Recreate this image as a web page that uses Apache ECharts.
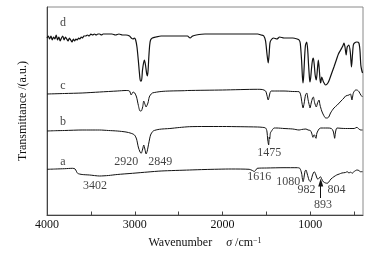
<!DOCTYPE html>
<html>
<head>
<meta charset="utf-8">
<script src="https://cdn.jsdelivr.net/npm/echarts@6/dist/echarts.min.js"></script>
<style>
  html, body { margin: 0; padding: 0; background: #fff; }
  #ftir { width: 375px; height: 254px; }
</style>
</head>
<body>
<div id="ftir"></div>
<script>
// wavenumber (cm-1), offset transmittance (arbitrary, stacked)
const curveA = [
  [4000,45.7],[3900,46],[3800,46.3],[3708,46.7],[3680,46],[3651,41.7],[3600,40.5],[3515,40],
  [3401,39],[3300,39.5],[3200,40.5],[3026,41.7],[2850,43],[2700,44],[2378,45],[2200,45.5],
  [1900,46],[1697,45.7],[1660,44.5],[1640,43.5],[1620,45],[1606,46.7],[1500,47],[1300,47.3],
  [1151,47.3],[1120,46.7],[1100,42],[1090,36],[1083,33.3],[1075,36],[1060,44],[1050,45],
  [1035,41],[1015,35],[1000,33.3],[990,35],[975,40],[955,43.3],[940,41],[925,37],[912,35.7],
  [900,37],[885,38.3],[870,36],[850,33],[825,32],[807,31.7],[790,33],[765,36],[731,38.3],
  [700,40],[670,41],[640,42],[600,42.5],[580,43.3],[560,42],[540,43],[526,41.7],[500,43.5],
  [469,45],[447,44.5],[430,43.3],[405,43.3]
];
const curveB = [
  [4000,84],[3900,84.3],[3800,84.5],[3600,85],[3500,85],[3400,85],[3300,84.5],[3200,84],
  [3100,83],[3041,81.7],[3003,80],[2980,76],[2960,68],[2940,63],[2927,61.7],[2910,66],
  [2898,70],[2885,66],[2871,61],[2858,64],[2840,72],[2820,80],[2790,84],[2720,85.7],
  [2600,86.5],[2492,87.5],[2378,88.3],[2200,88.5],[2000,88.5],[1800,88.3],[1600,88],
  [1549,87.7],[1510,87],[1495,84],[1485,75],[1475,70],[1468,78],[1463,76],[1455,82],
  [1447,83.3],[1412,87],[1380,87],[1300,86.5],[1200,86],[1128,85],[1100,85.5],[1050,86],
  [1026,85],[1000,84.5],[985,82],[970,77.7],[960,80],[950,80],[945,78],[935,76.7],[925,82],
  [901,86],[882,87],[850,87],[800,87],[760,86.5],[740,84],[730,80],[723,76.7],[715,82],
  [705,86],[697,87],[650,86.7],[600,86.5],[550,86.5],[500,86.5],[469,87.7],[447,86],
  [425,85],[405,85]
];
const curveC = [
  [4000,121],[3800,121.5],[3600,122],[3400,123],[3200,124],[3100,124.5],[3060,124],[3041,120],
  [3020,123],[3000,122],[2980,118],[2960,110],[2940,104],[2927,104],[2910,108],[2898,114],
  [2885,111],[2870,108],[2864,108],[2850,112],[2835,118],[2822,120],[2800,122],[2700,123.5],
  [2600,124],[2436,124.3],[2400,124.5],[2000,125],[1600,125.7],[1549,125.5],[1510,124],
  [1495,120],[1480,115],[1470,118],[1460,122],[1447,124],[1400,124],[1300,124],[1200,123.5],
  [1128,123.3],[1110,120],[1095,112],[1083,107],[1070,112],[1055,120],[1041,122],[1025,115],
  [1010,109],[1004,107],[990,112],[975,117],[966,118],[950,112],[932,108],[918,112],[901,115],
  [890,110],[870,104],[850,100],[825,97],[807,97],[790,98],[770,102],[731,107],[693,110],
  [650,114],[617,117],[598,119],[560,120],[543,121],[526,115],[510,122],[484,125],[470,125],
  [447,123.5],[425,120],[405,118]
];
const curveD = [
  [4000,177],[3985,179],[3970,176],[3955,179],[3940,175],[3925,178],[3910,176],[3895,180],
  [3880,175],[3865,178],[3850,174],[3835,177],[3820,179],[3805,175],[3790,178],[3775,176],
  [3760,174],[3745,177],[3730,175],[3715,173],[3700,176],[3685,174],[3670,176],[3655,175],
  [3640,177],[3625,176],[3610,178],[3595,177],[3580,179],[3560,179],[3540,180],[3520,179],
  [3500,181],[3480,180],[3460,181],[3440,180],[3420,181],[3400,181],[3380,180],[3360,181],
  [3340,181],[3300,181],[3260,181],[3220,180],[3180,181],[3140,180],[3100,180],[3060,179],
  [3040,177],[3020,176],[3005,177],[2990,175],[2975,168],[2960,155],[2945,140],[2935,134],
  [2924,134],[2912,145],[2900,152],[2890,155],[2878,150],[2864,141],[2856,139],[2848,145],
  [2840,158],[2830,170],[2820,175],[2800,177],[2760,178],[2700,179],[2600,179],[2500,179],
  [2436,179],[2400,179],[2370,177],[2340,179],[2300,180],[2200,181],[2100,181],[2000,181],
  [1800,181],[1600,181],[1560,180],[1530,179],[1510,174],[1495,162],[1480,152],[1470,160],
  [1460,172],[1447,175],[1420,177],[1380,176],[1350,178],[1300,177],[1250,177],[1200,177],
  [1150,176],[1128,175],[1115,172],[1100,155],[1090,138],[1083,132],[1075,140],[1065,158],
  [1055,170],[1041,173],[1030,165],[1020,150],[1010,137],[1004,133],[995,138],[985,148],
  [975,155],[966,157],[955,150],[945,140],[932,135],[920,145],[909,155],[900,148],[890,136],
  [882,132],[870,138],[850,133],[825,130],[800,132],[780,136],[760,141],[731,148],[700,156],
  [680,161],[655,165],[630,169],[617,172],[605,168],[592,160],[580,168],[561,170],[545,163],
  [531,148],[520,160],[510,170],[497,172],[470,173],[447,172],[435,165],[425,150],[415,145],
  [405,142]
];
const curveNames = ['a', 'b', 'c', 'd'];
// [wavenumber, value, text]
const annotations = [
  [3818,192.3,'d'],[3818,129,'c'],[3818,93.3,'b'],[3818,53.3,'a'],
  [3098,53.3,'2920'],[2710,53.3,'2849'],[3452,29.3,'3402'],[1469,61.7,'1475'],
  [1583,38.3,'1616'],[1253,32.7,'1080'],[1043,25,'982'],[702,25,'804'],[856,10,'893']
];
const arrow893 = [[882,17],[882,32.5]];
const majorTicks = [4000, 3000, 2000, 1000];
const allTicks = [4000, 3500, 3000, 2500, 2000, 1500, 1000, 500];

const serif = 'Liberation Serif';
const chart = echarts.init(document.getElementById('ftir'));

const lineSeries = [curveA, curveB, curveC, curveD].map((pts, i) => ({
  name: curveNames[i],
  type: 'line',
  data: pts,
  showSymbol: false,
  smooth: 0.25,
  lineStyle: { color: '#111', width: i === 3 ? 1.2 : 1 },
  silent: true,
  z: 3
}));
lineSeries[0].markLine = {
  silent: true,
  symbol: ['none', 'triangle'],
  symbolSize: [5, 8],
  label: { show: false },
  lineStyle: { color: '#111', width: 1, type: 'solid' },
  data: [[{ coord: arrow893[0] }, { coord: arrow893[1] }]]
};

const option = {
  animation: false,
  grid: {
    left: 47, right: 12, top: 7, bottom: 39,
    show: true, borderColor: '#8a8a8a', borderWidth: 1
  },
  xAxis: {
    type: 'value',
    min: 400,
    max: 4000,
    inverse: true,
    name: '{t|Wavenumber}{i|σ}{t| /cm}{s|−1}',
    nameLocation: 'middle',
    nameGap: 22,
    nameTextStyle: {
      rich: {
        t: { fontFamily: serif, fontSize: 12, color: '#111', verticalAlign: 'bottom' },
        i: { fontFamily: serif, fontSize: 12, fontStyle: 'italic', color: '#111', padding: [0, 0, 0, 14], verticalAlign: 'bottom' },
        s: { fontFamily: serif, fontSize: 8, color: '#111', verticalAlign: 'top' }
      }
    },
    axisLine: { lineStyle: { color: '#444', width: 1 } },
    axisTick: {
      inside: true, length: 3.5,
      customValues: allTicks,
      lineStyle: { color: '#444' }
    },
    axisLabel: {
      customValues: majorTicks,
      formatter: v => String(v),
      margin: 4,
      fontFamily: serif, fontSize: 12, color: '#111'
    },
    splitLine: { show: false }
  },
  yAxis: {
    type: 'value',
    min: 0,
    max: 208,
    name: 'Transmittance /(a.u.)',
    nameLocation: 'middle',
    nameGap: 18,
    nameTextStyle: { fontFamily: serif, fontSize: 12, color: '#111' },
    axisLine: { show: true, lineStyle: { color: '#444', width: 1 } },
    axisTick: { show: false },
    axisLabel: { show: false },
    splitLine: { show: false }
  },
  series: lineSeries.concat([{
    type: 'scatter',
    data: annotations,
    symbolSize: 1,
    itemStyle: { color: 'rgba(0,0,0,0)' },
    silent: true,
    label: {
      show: true,
      position: 'inside',
      formatter: p => p.data[2],
      fontFamily: serif,
      fontSize: 12,
      color: '#111'
    },
    z: 4
  }])
};
chart.setOption(option);
</script>
</body>
</html>
